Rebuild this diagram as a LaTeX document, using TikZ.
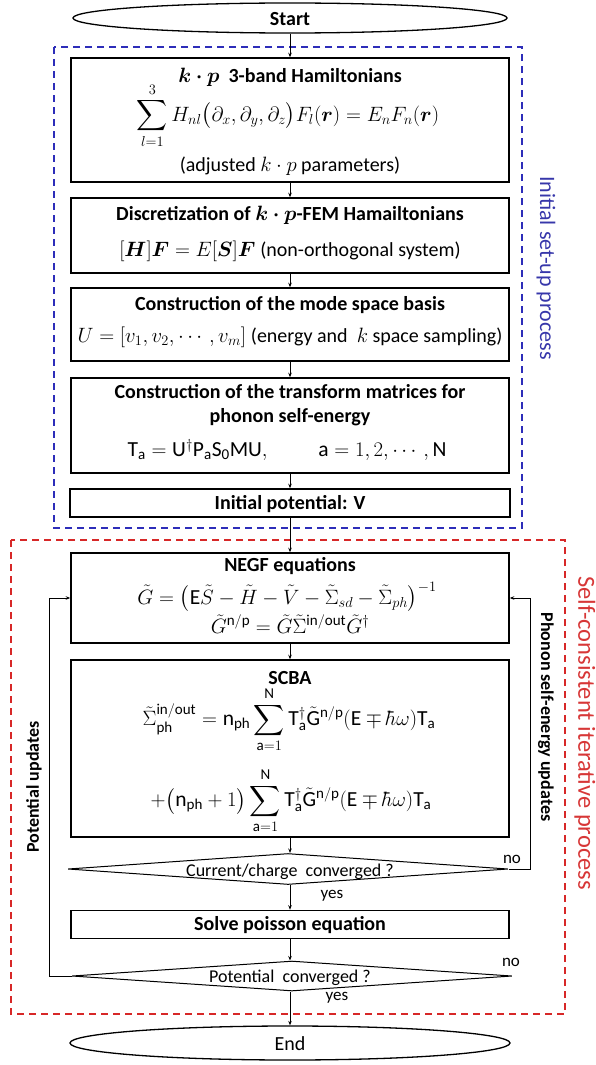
\documentclass[tikz,border=0pt]{standalone}
\usepackage{amsmath,amssymb}
\usepackage{bm}
\usepackage{fontspec}
\setmainfont{Carlito}
\usetikzlibrary{shapes.geometric,arrows.meta}
\definecolor{dblue}{RGB}{45,45,185}
\definecolor{dred}{RGB}{215,40,40}
\definecolor{tblue}{RGB}{55,55,170}
\definecolor{tred}{RGB}{215,55,55}
\tikzset{
  procbox/.style={draw, line width=1.5pt, rectangle, inner sep=0pt},
  termbox/.style={draw, line width=1.3pt, ellipse, inner sep=0pt},
  decbox/.style={draw, line width=1pt, diamond, inner sep=0pt, aspect=14},
  ttl/.style={font=\fontsize{20}{24}\selectfont\bfseries, inner sep=0pt},
  txt/.style={font=\fontsize{20}{24}\selectfont, inner sep=0pt},
  eqn/.style={font=\fontsize{21.5}{25}\selectfont, inner sep=0pt},
  dtxt/.style={font=\fontsize{18}{21}\selectfont, inner sep=0pt},
  small/.style={font=\fontsize{17}{20}\selectfont, inner sep=0pt},
  side/.style={font=\fontsize{18}{21}\selectfont\bfseries, inner sep=0pt},
  conn/.style={draw, line width=0.7pt, -{Stealth[length=4.5pt,width=3.5pt]}},
  loopline/.style={draw, line width=1pt, -{Stealth[length=4.5pt,width=3.5pt]}},
  groupblue/.style={draw=dblue, line width=1.8pt, dash pattern=on 7pt off 5pt},
  groupred/.style={draw=dred, line width=1.8pt, dash pattern=on 7pt off 5pt},
}
\begin{document}
\begin{tikzpicture}[x=1pt,y=-1pt]
\useasboundingbox (0,0) rectangle (595,1065);
% group frames
\draw[groupblue] (54,47) rectangle (522,528);
\draw[groupred] (11,540) rectangle (565,1014);
\node[font=\fontsize{22}{26}\selectfont, inner sep=0pt, text=tblue, rotate=-90] (lblA) at (546,268) {Initial set-up process};
\node[font=\fontsize{24.5}{28}\selectfont, inner sep=0pt, text=tred, rotate=-90] (lblB) at (585,733) {Self-consistent iterative process};
\node[side, rotate=-90] (lblC) at (546,717) {Phonon self-energy updates};
\node[side, rotate=90] (lblD) at (34,787) {Potential updates};

% terminals
\node[termbox, minimum width=434pt, minimum height=30pt] (start) at (290,18) {};
\node[ttl] (startT) at (290,19) {Start};
\node[termbox, minimum width=440pt, minimum height=34pt] (end) at (290,1043) {};
\node[txt] (endT) at (290,1044) {End};

% box 1
\node[procbox, minimum width=438pt, minimum height=124pt] (b1) at (290,120) {};
\node[ttl] (b1a) at (290,77) {$\boldsymbol{k\cdot p}$\ \ 3-band Hamiltonians};
\node[eqn] (b1b) at (288,116) {$\displaystyle\sum_{l=1}^{3} H_{nl}\bigl(\partial_x,\partial_y,\partial_z\bigr)F_l(\boldsymbol{r}) = E_nF_n(\boldsymbol{r})$};
\node[txt] (b1c) at (290,166) {(adjusted $k\cdot p$ parameters)};

% box 2
\node[procbox, minimum width=438pt, minimum height=75pt] (b2) at (290,235.5) {};
\node[ttl] (b2a) at (290,215) {Discretization of $\boldsymbol{k\cdot p}$-FEM Hamailtonians};
\node[eqn] (b2b) at (290,251) {$[\boldsymbol{H}]\boldsymbol{F} = E[\boldsymbol{S}]\boldsymbol{F}$ {\fontsize{20}{24}\selectfont(non-orthogonal system)}};

% box 3
\node[procbox, minimum width=438pt, minimum height=73pt] (b3) at (290,324.5) {};
\node[ttl] (b3a) at (290,305) {Construction of the mode space basis};
\node[eqn] (b3b) at (290,337) {$U=[v_1,v_2,\cdots,v_m]$\ {\fontsize{20}{24}\selectfont(energy and \ $k$ space sampling)}};

% box 4
\node[procbox, minimum width=438pt, minimum height=95pt] (b4) at (290,425.5) {};
\node[ttl] (b4a) at (290,392) {Construction of the transform matrices for};
\node[ttl] (b4b) at (290,417) {phonon self-energy};
\node[eqn] (b4c) at (287,450) {$\mathrm{T_a} = \mathrm{U^{\dagger}P_aS_0MU},\hspace{2.2em} \mathrm{a}=1,2,\cdots,\mathrm{N}$};

% box 5
\node[procbox, minimum width=440pt, minimum height=28pt] (b5) at (290,503) {};
\node[ttl] (b5a) at (290,504) {Initial potential: $\mathbf{V}$};

% NEGF
\node[procbox, minimum width=438pt, minimum height=90pt] (negf) at (290,598) {};
\node[ttl] (negfa) at (290,566) {NEGF equations};
\node[eqn] (negfb) at (287,597) {$\tilde{G} = \bigl(\mathrm{E}\tilde{S}-\tilde{H}-\tilde{V}-\tilde{\Sigma}_{sd}-\tilde{\Sigma}_{ph}\bigr)^{-1}$};
\node[eqn] (negfc) at (290,624) {$\tilde{G}^{\mathrm{n/p}} = \tilde{G}\tilde{\Sigma}^{\mathrm{in/out}}\tilde{G}^{\dagger}$};

% SCBA
\node[procbox, minimum width=438pt, minimum height=177pt] (scba) at (290,748.5) {};
\node[ttl] (scbaa) at (290,678) {SCBA};
\node[eqn] (scbab) at (289,720) {$\displaystyle\tilde{\Sigma}_{\mathrm{ph}}^{\mathrm{in/out}} = \mathrm{n_{ph}}\sum_{\mathrm{a}=1}^{\mathrm{N}}\mathrm{T_a^{\dagger}}\tilde{\mathrm{G}}^{\mathrm{n/p}}(\mathrm{E}\mp\hbar\omega)\mathrm{T_a}$};
\node[eqn] (scbac) at (291,801) {$\displaystyle+\bigl(\mathrm{n_{ph}}+1\bigr)\sum_{\mathrm{a}=1}^{\mathrm{N}}\mathrm{T_a^{\dagger}}\tilde{\mathrm{G}}^{\mathrm{n/p}}(\mathrm{E}\mp\hbar\omega)\mathrm{T_a}$};

% decision 1
\node[decbox, minimum width=440pt, minimum height=31pt] (d1) at (288,869) {};
\node[dtxt] (d1t) at (290,872) {Current/charge \ converged ?};
\node[small] (no1) at (512,859) {no};
\node[small] (yes1) at (332,896) {yes};

% poisson
\node[procbox, minimum width=438pt, minimum height=28pt] (pois) at (290,924.5) {};
\node[ttl] (poisT) at (290,925) {Solve poisson equation};

% decision 2
\node[decbox, minimum width=440pt, minimum height=30pt] (d2) at (292,976) {};
\node[dtxt] (d2t) at (290,978) {Potential \ converged ?};
\node[small] (no2) at (511,962) {no};
\node[small] (yes2) at (337,998) {yes};

% connectors
\draw[conn] (start) -- (b1);
\draw[conn] (b1) -- (b2);
\draw[conn] (b2) -- (b3);
\draw[conn] (b3) -- (b4);
\draw[conn] (b4) -- (b5);
\draw[conn] (b5) -- (negf);
\draw[conn] (negf) -- (scba);
\draw[conn] (scba.south) -- (d1.north -| scba.south);
\draw[conn] (d1.south -| pois.north) -- (pois.north);
\draw[conn] (pois.south) -- (d2.north -| pois.south);
\draw[conn] (d2.south -| end.north) -- (end.north);

% feedback loops
\coordinate (lp) at (49,598);
\coordinate (rp) at (530,598);
\draw[loopline] (d2.west) -| (lp) -- (negf.west |- lp);
\draw[loopline] (d1.east) -| (rp) -- (negf.east |- rp);
\end{tikzpicture}
\end{document}
